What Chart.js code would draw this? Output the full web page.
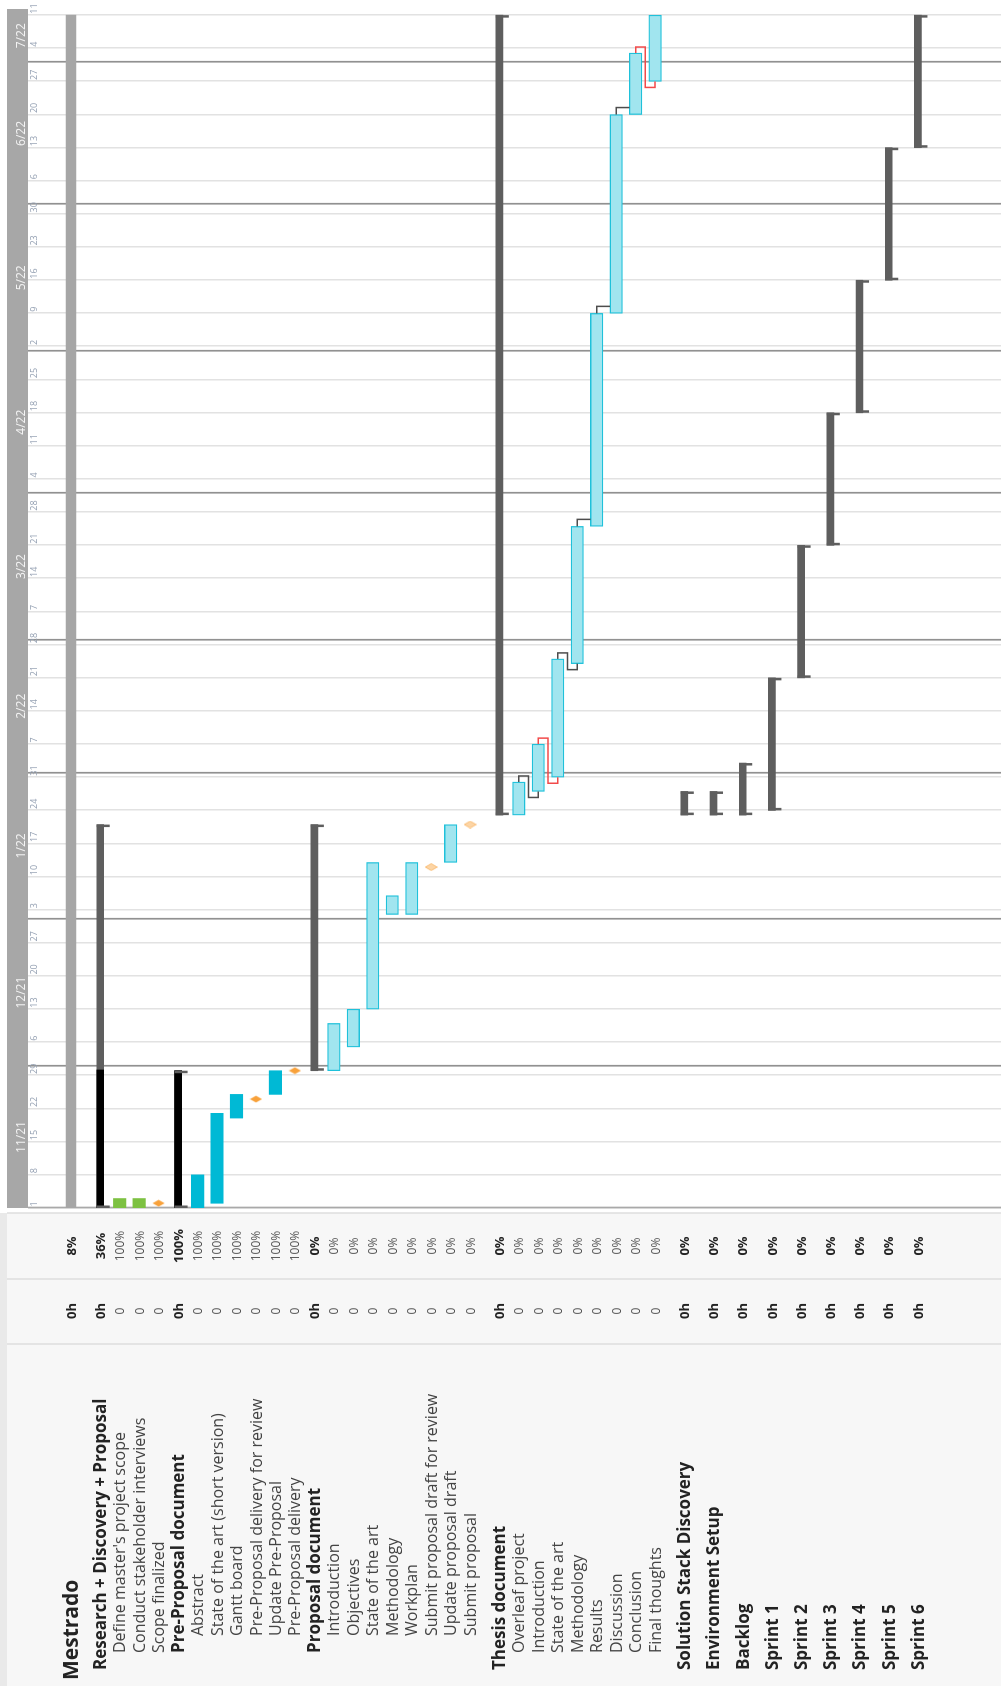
<!DOCTYPE html>
<html>
<head>
<meta charset="utf-8">
<title>Mestrado – Gantt</title>
<script src="https://cdn.jsdelivr.net/npm/chart.js@4.4.1/dist/chart.umd.min.js"></script>
<style>
  html, body { margin: 0; padding: 0; background: #ffffff; width: 1001px; height: 1686px; overflow: hidden; }
  /* the gantt is laid out landscape and turned a quarter turn so the time axis runs up the page */
  #stage { position: absolute; left: 0; top: 0; width: 1686px; height: 1001px;
           transform-origin: 0 0; transform: translate(0, 1686px) rotate(-90deg); }
  #gantt { display: block; }
</style>
</head>
<body>
<div id="stage"><canvas id="gantt" width="1686" height="1001"></canvas></div>
<script>
// ---------------- project data ----------------
const projectStart = '2021-11-01';

const taskNames = [
  'Mestrado',
  'Research + Discovery + Proposal',
  "Define master's project scope",
  'Conduct stakeholder interviews',
  'Scope finalized',
  'Pre-Proposal document',
  'Abstract',
  'State of the art (short version)',
  'Gantt board',
  'Pre-Proposal delivery for review',
  'Update Pre-Proposal',
  'Pre-Proposal delivery',
  'Proposal document',
  'Introduction',
  'Objectives',
  'State of the art',
  'Methodology',
  'Workplan',
  'Submit proposal draft for review',
  'Update proposal draft',
  'Submit proposal',
  'Thesis document',
  'Overleaf project',
  'Introduction',
  'State of the art',
  'Methodology',
  'Results',
  'Discussion',
  'Conclusion',
  'Final thoughts',
  'Solution Stack Discovery',
  'Environment Setup',
  'Backlog',
  'Sprint 1', 'Sprint 2', 'Sprint 3', 'Sprint 4', 'Sprint 5', 'Sprint 6'
];

const taskLevels = [0, 1, 2, 2, 2, 2, 3, 3, 3, 3, 3, 3, 2, 3, 3, 3, 3, 3, 3, 3, 3,
                    1, 2, 2, 2, 2, 2, 2, 2, 2, 1, 1, 1, 1, 1, 1, 1, 1, 1];

const taskKinds = ['project', 'summary', 'task', 'task', 'milestone', 'summary',
  'task', 'task', 'task', 'milestone', 'task', 'milestone',
  'summary', 'task', 'task', 'task', 'task', 'task', 'milestone', 'task', 'milestone',
  'summary', 'task', 'task', 'task', 'task', 'task', 'task', 'task', 'task',
  'summary', 'summary', 'summary', 'summary', 'summary', 'summary', 'summary', 'summary', 'summary'];

const taskStarts = ['2021-11-01', '2021-11-01', '2021-11-01', '2021-11-01', '2021-11-02', '2021-11-01',
  '2021-11-01', '2021-11-02', '2021-11-20', '2021-11-24', '2021-11-25', '2021-11-30',
  '2021-11-30', '2021-11-30', '2021-12-05', '2021-12-13', '2022-01-02', '2022-01-02', '2022-01-12', '2022-01-13', '2022-01-21',
  '2022-01-23', '2022-01-23', '2022-01-28', '2022-01-31', '2022-02-24', '2022-03-25', '2022-05-09', '2022-06-20', '2022-06-27',
  '2022-01-23', '2022-01-23', '2022-01-23', '2022-01-24', '2022-02-21', '2022-03-21', '2022-04-18', '2022-05-16', '2022-06-13'];

const taskEnds = ['2022-07-11', '2022-01-21', '2021-11-03', '2021-11-03', '2021-11-02', '2021-11-30',
  '2021-11-08', '2021-11-21', '2021-11-25', '2021-11-24', '2021-11-30', '2021-11-30',
  '2022-01-21', '2021-12-10', '2021-12-13', '2022-01-13', '2022-01-06', '2022-01-13', '2022-01-12', '2022-01-21', '2022-01-21',
  '2022-07-11', '2022-01-30', '2022-02-07', '2022-02-25', '2022-03-25', '2022-05-09', '2022-06-20', '2022-07-03', '2022-07-11',
  '2022-01-28', '2022-01-28', '2022-02-03', '2022-02-21', '2022-03-21', '2022-04-18', '2022-05-16', '2022-06-13', '2022-07-11'];

const taskProgress = [8, 36, 100, 100, 100, 100, 100, 100, 100, 100, 100, 100,
  0, 0, 0, 0, 0, 0, 0, 0, 0,
  0, 0, 0, 0, 0, 0, 0, 0, 0,
  0, 0, 0, 0, 0, 0, 0, 0, 0];

const taskHours = new Array(taskNames.length).fill(0);

const GREEN = '#7dc142', CYAN = '#00b9d5', ORANGE = '#f8a13a';
const taskColors = ['', '', GREEN, GREEN, ORANGE, '',
  CYAN, CYAN, CYAN, ORANGE, CYAN, ORANGE,
  '', CYAN, CYAN, CYAN, CYAN, CYAN, ORANGE, CYAN, ORANGE,
  '', CYAN, CYAN, CYAN, CYAN, CYAN, CYAN, CYAN, CYAN,
  '', '', '', '', '', '', '', '', ''];

// finish-to-start links: [predecessor row, successor row, critical]
const taskLinks = [[22, 23, false], [23, 24, true], [24, 25, false], [25, 26, false],
                   [26, 27, false], [27, 28, false], [28, 29, true]];

// timeline header
const monthStarts = ['2021-11-01', '2021-12-01', '2022-01-01', '2022-02-01', '2022-03-01',
                     '2022-04-01', '2022-05-01', '2022-06-01', '2022-07-01'];
const monthLabels = ['11/21', '12/21', '1/22', '2/22', '3/22', '4/22', '5/22', '6/22', '7/22'];
const weekStart = '2021-11-01';
const weekLabels = ['1', '8', '15', '22', '29', '6', '13', '20', '27', '3', '10', '17', '24', '31',
  '7', '14', '21', '28', '7', '14', '21', '28', '4', '11', '18', '25', '2', '9', '16', '23', '30',
  '6', '13', '20', '27', '4', '11'];

// ---------------- helpers ----------------
const DAY_MS = 86400000;
function dayIndex(iso) {
  const [y, m, d] = iso.split('-').map(Number);
  const [y0, m0, d0] = projectStart.split('-').map(Number);
  return (Date.UTC(y, m - 1, d) - Date.UTC(y0, m0 - 1, d0)) / DAY_MS;
}
function tint(hex, amt) {
  const n = parseInt(hex.slice(1), 16);
  const c = [n >> 16, (n >> 8) & 255, n & 255].map(v => Math.round(v + (255 - v) * amt));
  return 'rgb(' + c.join(',') + ')';
}

const startDay = taskStarts.map(dayIndex);
const endDay = taskEnds.map(dayIndex);

// row slots: top-level groups get half a row of breathing space above them
const rowPos = [];
taskLevels.reduce((acc, lv, i) => {
  const r = i === 0 ? 0 : acc + 1 + (lv === 1 ? 0.5 : 0);
  rowPos.push(r);
  return r;
}, 0);

const idxOf = kind => taskKinds.map((k, i) => k === kind ? i : -1).filter(i => i >= 0);
const leafRows = idxOf('task');
const milestoneRows = idxOf('milestone');
const summaryRows = idxOf('summary');
const projectRows = idxOf('project');

function diamond(fill, stroke) {
  const c = document.createElement('canvas');
  c.width = 8; c.height = 13;
  const g = c.getContext('2d');
  g.beginPath();
  g.moveTo(4, 0.6); g.lineTo(7.4, 6.5); g.lineTo(4, 12.4); g.lineTo(0.6, 6.5); g.closePath();
  g.fillStyle = fill; g.fill();
  if (stroke) { g.strokeStyle = stroke; g.lineWidth = 1; g.stroke(); }
  return c;
}

// ---------------- layout ----------------
const TABLE_RIGHT = 473;
const COL_HOURS = 342, COL_PCT = 407;
const HOURS_X = 375, PCT_X = 440;
const INDENT = [6, 16, 33, 50];
const AXIS_MAX_DAYS = 253.3;
const FIRST_ROW_PX = 71, ROW_PITCH = 19.47;
const BAND_TOP = 7, BAND_BOTTOM = 28;
const SUMMARY_T = 7, LEAF_T = 12.5, PROJECT_T = 10;
const FONT = '"Open Sans", "Noto Sans", sans-serif';

// ---------------- drawing of frame, table and links ----------------
const ganttFrame = {
  id: 'ganttFrame',

  // keep a fixed row pitch from the first row, whatever height the plot area gets
  afterLayout(chart) {
    const y = chart.scales.y;
    y.min = (y.top - FIRST_ROW_PX) / ROW_PITCH;
    y.max = (y.bottom - FIRST_ROW_PX) / ROW_PITCH;
    y.configure();
  },

  beforeDatasetsDraw(chart) {
    const { ctx, chartArea: ca, scales: { x, y } } = chart;
    const H = chart.height;
    ctx.save();

    // task table
    ctx.fillStyle = '#f7f7f7';
    ctx.fillRect(0, 0, TABLE_RIGHT, H);
    ctx.fillStyle = '#e9e9e9';
    ctx.fillRect(0, 0, TABLE_RIGHT, BAND_TOP);
    ctx.strokeStyle = '#dedede';
    ctx.lineWidth = 1.5;
    [COL_HOURS, COL_PCT, TABLE_RIGHT].forEach(cx => {
      ctx.beginPath(); ctx.moveTo(cx, BAND_TOP); ctx.lineTo(cx, H); ctx.stroke();
    });

    // month band
    ctx.fillStyle = '#a7a7a7';
    ctx.fillRect(ca.left, BAND_TOP, ca.right - ca.left, BAND_BOTTOM - BAND_TOP);

    // weekly grid
    ctx.strokeStyle = '#e2e2e2';
    ctx.lineWidth = 1.5;
    const w0 = dayIndex(weekStart);
    weekLabels.forEach((lab, i) => {
      const px = Math.round(x.getPixelForValue(w0 + 7 * i)) + 0.25;
      ctx.beginPath(); ctx.moveTo(px, BAND_BOTTOM); ctx.lineTo(px, H); ctx.stroke();
    });
    // month rules
    ctx.strokeStyle = '#919191';
    ctx.lineWidth = 1.7;
    monthStarts.forEach((m, i) => {
      if (i === 0) return;
      const px = Math.round(x.getPixelForValue(dayIndex(m))) + 0.25;
      ctx.beginPath(); ctx.moveTo(px, BAND_BOTTOM); ctx.lineTo(px, H); ctx.stroke();
    });
    // left edge of the timeline
    ctx.strokeStyle = '#a9a9a9';
    ctx.beginPath(); ctx.moveTo(ca.left + 0.5, BAND_BOTTOM); ctx.lineTo(ca.left + 0.5, H); ctx.stroke();

    // week numbers
    ctx.font = '9px ' + FONT;
    ctx.fillStyle = '#95a1b3';
    ctx.textAlign = 'left';
    ctx.textBaseline = 'alphabetic';
    weekLabels.forEach((lab, i) => {
      const px = x.getPixelForValue(w0 + 7 * i);
      ctx.fillText(lab, px + 1.5, 37);
    });

    // month names
    ctx.font = '12px ' + FONT;
    ctx.fillStyle = '#f4f4f4';
    ctx.textAlign = 'center';
    monthStarts.forEach((m, i) => {
      const a = Math.max(ca.left, x.getPixelForValue(dayIndex(m)));
      const b = i + 1 < monthStarts.length
        ? Math.min(ca.right, x.getPixelForValue(dayIndex(monthStarts[i + 1]))) : ca.right;
      ctx.fillText(monthLabels[i], (a + b) / 2, 24.5);
    });

    // table rows
    ctx.textBaseline = 'middle';
    taskNames.forEach((name, i) => {
      const yc = y.getPixelForValue(rowPos[i]);
      const lv = taskLevels[i];
      const strong = taskKinds[i] === 'project' || taskKinds[i] === 'summary';
      ctx.textAlign = 'left';
      ctx.fillStyle = strong ? '#232323' : '#444444';
      ctx.font = lv === 0 ? 'bold 21px ' + FONT : (strong ? 'bold 17px ' : '16px ') + FONT;
      ctx.fillText(name, INDENT[lv], yc + 1);

      ctx.textAlign = 'center';
      ctx.font = (strong ? 'bold 13px ' : '12px ') + FONT;
      ctx.fillStyle = strong ? '#232323' : '#555555';
      ctx.fillText(strong ? taskHours[i] + 'h' : String(taskHours[i]), HOURS_X, yc + 1);
      ctx.fillText(taskProgress[i] + '%', PCT_X, yc + 1);
    });
    ctx.restore();
  },

  afterDatasetsDraw(chart) {
    const { ctx, scales: { x, y } } = chart;
    ctx.save();
    // end legs of the summary brackets
    ctx.fillStyle = '#5e5e5e';
    summaryRows.forEach(i => {
      const yc = y.getPixelForValue(rowPos[i]);
      const xs = x.getPixelForValue(startDay[i]);
      const xe = x.getPixelForValue(endDay[i]);
      const top = yc - SUMMARY_T / 2, leg = 13;
      ctx.fillRect(xs, top, 2.5, leg);
      ctx.fillRect(xe - 2.5, top, 2.5, leg);
    });

    // dependency links
    ctx.lineWidth = 1.5;
    ctx.lineJoin = 'miter';
    taskLinks.forEach(([p, s, critical]) => {
      const xe = x.getPixelForValue(endDay[p]);
      const yp = y.getPixelForValue(rowPos[p]);
      const xs = x.getPixelForValue(startDay[s]);
      const ys = y.getPixelForValue(rowPos[s]);
      ctx.strokeStyle = critical ? '#f24a4a' : '#4d4d4d';
      ctx.beginPath();
      if (xs < xe - 0.5) {
        const ym = (yp + ys) / 2;
        ctx.moveTo(xe, yp);
        ctx.lineTo(xe + 6, yp);
        ctx.lineTo(xe + 6, ym);
        ctx.lineTo(xs - 6, ym);
        ctx.lineTo(xs - 6, ys);
        ctx.lineTo(xs, ys);
      } else {
        ctx.moveTo(xe, yp);
        ctx.lineTo(xe + 7, yp);
        ctx.lineTo(xe + 7, ys - LEAF_T / 2);
      }
      ctx.stroke();
    });
    ctx.restore();
  }
};

// ---------------- datasets ----------------
const doneDiamond = diamond(ORANGE, null);
const openDiamond = diamond(tint(ORANGE, 0.55), tint(ORANGE, 0.3));

const datasets = [
  {
    type: 'scatter',
    label: 'Milestones',
    data: milestoneRows.map(i => ({ x: startDay[i], y: rowPos[i] })),
    pointStyle: milestoneRows.map(i => taskProgress[i] >= 100 ? doneDiamond : openDiamond),
    pointRadius: 6,
    order: 0
  },
  {
    type: 'bar',
    label: 'Tasks',
    grouped: false,
    barThickness: LEAF_T,
    borderSkipped: false,
    data: leafRows.map(i => ({ x: [startDay[i], endDay[i]], y: rowPos[i] })),
    backgroundColor: leafRows.map(i => taskProgress[i] >= 100 ? taskColors[i] : tint(taskColors[i], 0.63)),
    borderColor: leafRows.map(i => taskProgress[i] >= 100 ? taskColors[i] : tint(taskColors[i], 0.12)),
    borderWidth: leafRows.map(i => taskProgress[i] >= 100 ? 0 : 1.3),
    order: 1
  },
  {
    type: 'bar',
    label: 'Summary progress',
    grouped: false,
    barThickness: SUMMARY_T,
    borderSkipped: false,
    data: summaryRows.filter(i => taskProgress[i] > 0)
      .map(i => ({ x: [startDay[i], startDay[i] + (endDay[i] - startDay[i]) * taskProgress[i] / 100], y: rowPos[i] })),
    backgroundColor: '#000000',
    order: 2
  },
  {
    type: 'bar',
    label: 'Summaries',
    grouped: false,
    barThickness: SUMMARY_T,
    borderSkipped: false,
    data: summaryRows.map(i => ({ x: [startDay[i], endDay[i]], y: rowPos[i] })),
    backgroundColor: '#5e5e5e',
    order: 3
  },
  {
    type: 'bar',
    label: 'Project',
    grouped: false,
    barThickness: PROJECT_T,
    borderSkipped: false,
    data: projectRows.map(i => ({ x: [startDay[i], endDay[i]], y: rowPos[i] })),
    backgroundColor: '#a6a6a6',
    order: 4
  }
];

new Chart(document.getElementById('gantt'), {
  type: 'bar',
  data: { datasets },
  options: {
    indexAxis: 'y',
    responsive: false,
    animation: false,
    devicePixelRatio: 1,
    events: [],
    layout: { padding: { left: 478, right: 9, top: BAND_BOTTOM, bottom: 0 } },
    plugins: { legend: { display: false }, tooltip: { enabled: false } },
    scales: {
      x: { type: 'linear', min: 0, max: AXIS_MAX_DAYS, offset: false, grid: { offset: false }, display: false },
      y: { type: 'linear', min: -2.2, max: 47.8, reverse: true, offset: false, grid: { offset: false }, display: false }
    }
  },
  plugins: [ganttFrame]
});
</script>
</body>
</html>
